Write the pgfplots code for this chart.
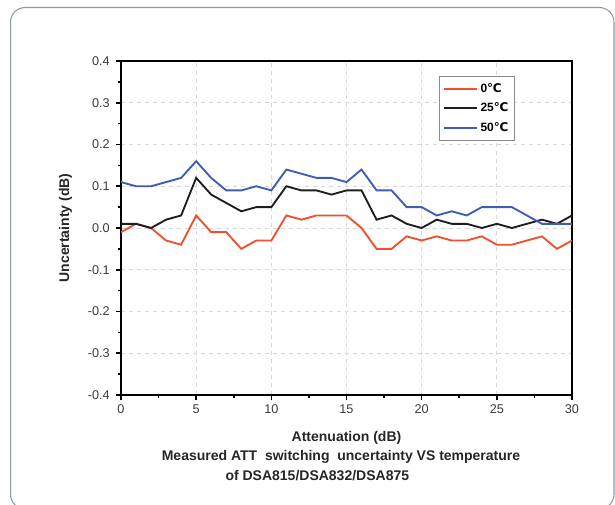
\documentclass[border=0pt]{standalone}
\usepackage{fontspec}
\setmainfont{Liberation Sans}
\newfontfamily\dejavu{DejaVu Sans}
\usepackage{pgfplots}
\pgfplotsset{compat=1.18}

\definecolor{cold}{HTML}{F0502C}
\definecolor{room}{HTML}{1E1E1E}
\definecolor{hot}{HTML}{3D5DB8}
\definecolor{framec}{HTML}{8C9BA8}
\definecolor{gridc}{HTML}{D8D8D8}
\definecolor{labc}{HTML}{3A3A3A}

\newcommand{\degC}{{\dejavu\bfseries ℃}}

\begin{document}
\begin{tikzpicture}
% page area (1 px = 0.75 pt)
\path[use as bounding box] (0pt,0pt) rectangle (461.25pt,378.75pt);
% rounded panel frame
\draw[framec,line width=0.8pt,rounded corners=11pt] (7.9pt,-3pt) rectangle (460.5pt,373.1pt);

\begin{axis}[
  at={(90.75pt,82.5pt)}, anchor=south west,
  scale only axis,
  width=338.25pt, height=250.5pt,
  xmin=0, xmax=30, ymin=-0.4, ymax=0.4,
  xtick={0,5,...,30},
  ytick={-0.4,-0.3,...,0.41},
  minor xtick={2.5,7.5,...,27.5},
  minor ytick={-0.35,-0.25,...,0.36},
  tick align=outside,
  tick pos=left,
  major tick length=4pt,
  minor tick length=2.5pt,
  every tick/.style={line width=1.2pt,black},
  axis line style={line width=1.6pt,black},
  grid=major,
  major grid style={gridc,dashed,line width=0.5pt},
  /pgf/number format/assume math mode=true,
  ticklabel style={font=\fontsize{9.5}{11}\selectfont,text=labc},
  yticklabel style={xshift=-1pt,/pgf/number format/.cd,fixed,fixed zerofill,precision=1},
  xlabel={Attenuation (dB)},
  ylabel={Uncertainty (dB)},
  label style={font=\bfseries\fontsize{10.5}{12}\selectfont,text=black!85},
  xlabel style={yshift=-6pt},
  ylabel style={yshift=5pt},
  legend cell align=left,
  legend style={at={(0.705,0.955)}, anchor=north west,
    draw=black!45, line width=0.6pt, fill=white,
    font=\bfseries\fontsize{9}{10}\selectfont,
    inner xsep=2.5pt, inner ysep=3pt, row sep=2.5pt},
  legend image code/.code={\draw[#1] (0pt,0pt) -- (25pt,0pt);},
]
\addplot[cold,line width=1.4pt] coordinates {
(0,-0.01) (1,0.01) (2,0.00) (3,-0.03) (4,-0.04) (5,0.03) (6,-0.01) (7,-0.01)
(8,-0.05) (9,-0.03) (10,-0.03) (11,0.03) (12,0.02) (13,0.03) (14,0.03) (15,0.03)
(16,0.00) (17,-0.05) (18,-0.05) (19,-0.02) (20,-0.03) (21,-0.02) (22,-0.03)
(23,-0.03) (24,-0.02) (25,-0.04) (26,-0.04) (27,-0.03) (28,-0.02) (29,-0.05) (30,-0.03)
};
\addlegendentry{0\degC}
\addplot[room,line width=1.4pt] coordinates {
(0,0.01) (1,0.01) (2,0.00) (3,0.02) (4,0.03) (5,0.12) (6,0.08) (7,0.06)
(8,0.04) (9,0.05) (10,0.05) (11,0.10) (12,0.09) (13,0.09) (14,0.08) (15,0.09)
(16,0.09) (17,0.02) (18,0.03) (19,0.01) (20,0.00) (21,0.02) (22,0.01)
(23,0.01) (24,0.00) (25,0.01) (26,0.00) (27,0.01) (28,0.02) (29,0.01) (30,0.03)
};
\addlegendentry{25\degC}
\addplot[hot,line width=1.4pt] coordinates {
(0,0.11) (1,0.10) (2,0.10) (3,0.11) (4,0.12) (5,0.16) (6,0.12) (7,0.09)
(8,0.09) (9,0.10) (10,0.09) (11,0.14) (12,0.13) (13,0.12) (14,0.12) (15,0.11)
(16,0.14) (17,0.09) (18,0.09) (19,0.05) (20,0.05) (21,0.03) (22,0.04)
(23,0.03) (24,0.05) (25,0.05) (26,0.05) (27,0.03) (28,0.01) (29,0.01) (30,0.01)
};
\addlegendentry{50\degC}
\end{axis}

% caption under the chart
\node[font=\bfseries\fontsize{10.5}{12}\selectfont,text=black!85] at (255.75pt,36pt)
  {Measured ATT\ \ switching\ \ uncertainty VS temperature};
\node[font=\bfseries\fontsize{10.5}{12}\selectfont,text=black!85] at (238pt,21.75pt)
  {of DSA815/DSA832/DSA875};
\end{tikzpicture}
\end{document}
